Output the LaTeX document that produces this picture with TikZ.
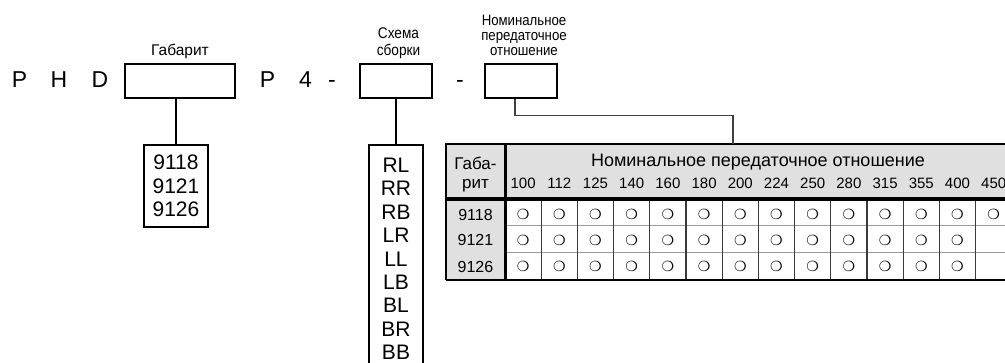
\documentclass[tikz,border=0pt]{standalone}
\usepackage{fontspec}
\setmainfont{Liberation Sans}
\newfontfamily\labelfont[FakeStretch=0.88]{Liberation Sans}
\newfontfamily\ringfont{DejaVu Sans}
\usetikzlibrary{positioning, calc}
\definecolor{chead}{HTML}{E0E0E0}
\definecolor{cgrid}{HTML}{3A3A3A}
\definecolor{crow}{HTML}{9A9A9A}
\definecolor{cwire}{HTML}{404040}
\tikzset{
  every picture/.style={x=1pt, y=-1pt, line width=1.2pt},
  letter/.style={font=\fontsize{23}{26}\selectfont, inner sep=0pt, anchor=base},
  slot/.style={draw, line width=2.4pt, minimum width=#1, minimum height=33.6pt, inner sep=0pt},
  slotlabel/.style={font=\labelfont\fontsize{15.5}{17}\selectfont, align=center, inner sep=0pt, anchor=base},
  choices/.style={draw, line width=2pt, align=center, font=\fontsize{21}{23.4}\selectfont,
    minimum width=#1, inner xsep=0pt, inner ysep=10pt, anchor=north},
  wire/.style={draw=black, line width=1.3pt},
  hcell/.style={inner sep=0pt, anchor=base, align=center},
  rowlabel/.style={font=\fontsize{16}{18}\selectfont, inner sep=0pt},
  ring/.style={font=\ringfont\fontsize{14}{14}\selectfont, inner sep=0pt},
}

\begin{document}
\begin{tikzpicture}
  \useasboundingbox (0,0) rectangle (1005,363);
  \clip (0,0) rectangle (1005,363);

  % code letters
  \foreach \n/\x/\t in {p1/19.5/P, h/59/H, d/100/D, p2/267.5/P, four/305.5/4, dasha/332/-, dashb/460/-}
    \node[letter] (\n) at (\x,88) {\t};

  % fields of the code
  \node[slot=109.6pt] (gab) at (180,81) {};
  \node[slot=72pt] (scheme) at (396,81) {};
  \node[slot=72pt] (ratio) at (521,81) {};
  \node[slotlabel, font=\fontsize{15.5}{17}\selectfont] (gablbl) at (180,56) {Габарит};
  \node[slotlabel] (schemelbl) at (398.5,56) {Схема\\сборки};
  \node[slotlabel, font=\labelfont\fontsize{15}{15.3}\selectfont] (ratiolbl) at (524,56)
    {Номинальное\\передаточное\\отношение};

  \node[choices=64pt] (gablist) at (176,144) {9118\\9121\\9126};
  \node[choices=54pt, inner ysep=13pt] (schemelist) at (396,144) {RL\\RR\\RB\\LR\\LL\\LB\\BL\\BR\\BB};
  \draw[wire] (gablist.north) -- (gablist.north |- gab.south);
  \draw[wire] (schemelist.north) -- (schemelist.north |- scheme.south);

  % table of ratios
  \fill[chead] (446,144) rectangle (1012,199);
  \fill[chead] (446,199) rectangle (505,280);
  \foreach \r in {1,2}
    \draw[crow, line width=1pt] (505,{199+27*\r}) -- (1012,{199+27*\r});
  \foreach \c in {1,...,14}
    \draw[cgrid, line width=1.2pt] ({505+36.2*\c},199) -- ({505+36.2*\c},280);
  \draw[line width=1.2pt] (446,280) -- (1012,280);
  \draw[line width=2.6pt] (446,280) -- (446,144) -- (1012,144);
  \draw[line width=3pt] (505,144) -- (505,280);
  \draw[line width=4pt] (446,199.5) -- (1012,199.5);

  \node[hcell, font=\fontsize{17}{19}\selectfont] (gabhead) at (475.5,189) {Габа-\\рит};
  \node[hcell, font=\fontsize{18}{20}\selectfont] (ratiohead) at (758,167)
    {Номинальное передаточное отношение};
  \foreach \v [count=\c from 0] in {100,112,125,140,160,180,200,224,250,280,315,355,400,450}
    \node[hcell, font=\fontsize{15}{17}\selectfont] (v\c) at ({523.1+36.2*\c},189) {\v};

  \foreach \g/\y/\n in {9118/214.5/14, 9121/240/13, 9126/266.5/13} {
    \node[rowlabel] (g\g) at (475.5,\y) {\g};
    \foreach \c in {1,...,\n}
      \node[ring] (o\g-\c) at ({505+36.2*\c-18.1},\y) {❍};
  }

  \coordinate (tabtap) at (733,144);
  \draw[draw=cwire, line width=1.3pt] ([xshift=-6pt]ratio.south) -- ++(0,16.2) -| (tabtap);
\end{tikzpicture}
\end{document}
